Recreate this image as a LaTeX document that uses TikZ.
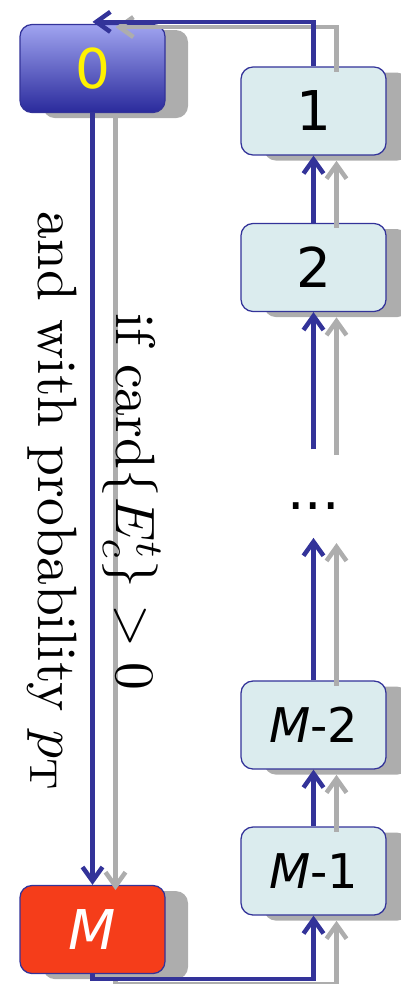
\documentclass[tikz,border=0pt]{standalone}
\usepackage{fontspec}
\setsansfont{DejaVu Sans}
\usetikzlibrary{shadows,arrows.meta}
\definecolor{linkblue}{HTML}{333399}
\definecolor{shadowgray}{HTML}{ADADAD}
\definecolor{boxfill}{HTML}{DBECEE}
\definecolor{lastred}{HTML}{F53D1A}
\definecolor{toptint}{HTML}{A0A4F0}
\definecolor{bottomtint}{HTML}{2A2A9C}

\begin{document}
\begin{tikzpicture}[
    state/.style={rectangle, rounded corners=0.3cm, minimum width=3.625cm, minimum height=2.2cm, text centered, draw=linkblue, line width=0.9pt, font=\sffamily\fontsize{39}{47}\selectfont,
      drop shadow={shadow xshift=0.575cm, shadow yshift=-0.14cm, fill=shadowgray, opacity=1}},
    small/.style={font=\sffamily\fontsize{34}{41}\selectfont},
    gap/.style={minimum width=3.625cm, minimum height=2.2cm, text height=0.775cm, text depth=0pt, font=\sffamily\fontsize{39}{47}\selectfont},
    link/.style={line width=3.2pt, -{Straight Barb[length=3.5mm,width=5mm]}}
  ]
    \useasboundingbox (0,0) rectangle (10.025,-24.6);

    \node[state, top color=toptint, bottom color=bottomtint, text=yellow] (n0) at (2.3125,-1.7125) {0};
    \node[state, fill=boxfill] (n1) at (7.8375,-2.775) {1};
    \node[state, fill=boxfill] (n2) at (7.8375,-6.6875) {2};
    \node[gap] (dots) at (7.8375,-12.34) {...};
    \node[state, small, fill=boxfill] (nM2) at (7.8375,-18.125) {{\itshape M}-2};
    \node[state, small, fill=boxfill] (nM1) at (7.8375,-21.775) {{\itshape M}-1};
    \node[state, fill=lastred, text=white] (nM) at (2.3125,-23.2375) {\itshape M};

    % grey copy first, blue on top
    \foreach \col/\dx/\dy in {shadowgray/0.575/-0.13, linkblue/0/0} {
      \begin{scope}[transform canvas={shift={(\dx,\dy)}}]
        \draw[link, \col] (n1.north) |- ([yshift=0.05cm]n0.north);
        \draw[link, \col] (n0.south) -- (nM.north);
        \draw[link, \col] (nM.south) -- ++(0,-0.125) -| (nM1.south);
        \draw[link, \col] (nM1.north) -- (nM2.south);
        \draw[link, \col] (nM2.north) -- (dots.south);
        \draw[link, \col] (dots.north) -- (n2.south);
        \draw[link, \col] (n2.north) -- (n1.south);
      \end{scope}
    }

    \node[rotate=-90, scale=3.95, align=center, font=\fontsize{10}{14}\selectfont] (cond) at (2.35,-12.55) {if card$\{E_c^t\}>0$\\and with probability $p_\mathrm{T}$};

  \end{tikzpicture}
\end{document}
